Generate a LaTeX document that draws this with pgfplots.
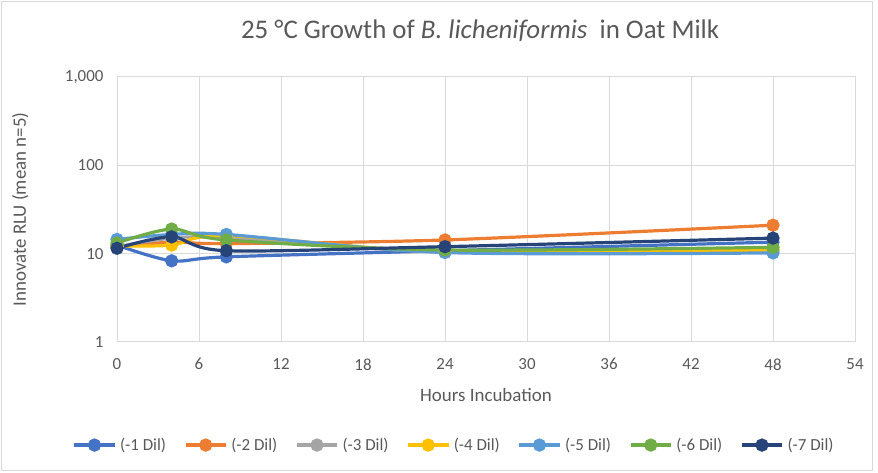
\documentclass[border=0pt]{standalone}
\usepackage{pgfplots}
\pgfplotsset{compat=1.18}
\usepackage{fontspec}
\setmainfont{Carlito}
\definecolor{c1}{HTML}{4472C4}
\definecolor{c2}{HTML}{ED7D31}
\definecolor{c3}{HTML}{A5A5A5}
\definecolor{c4}{HTML}{FFC000}
\definecolor{c5}{HTML}{5B9BD5}
\definecolor{c6}{HTML}{70AD47}
\definecolor{c7}{HTML}{264478}
\definecolor{txt}{HTML}{595959}
\definecolor{gridc}{HTML}{D9D9D9}
\begin{document}
\begin{tikzpicture}
\useasboundingbox (0,0) rectangle (878bp,473bp);
\draw[gridc, line width=1bp] (1.5bp,2bp) rectangle (872bp,471bp);
\begin{axis}[
  at={(117bp,131bp)}, anchor=south west,
  width=738bp, height=265bp, scale only axis,
  xmin=0, xmax=54, ymin=1, ymax=1000,
  ymode=log, log basis y=10,
  xtick={0,6,...,54},
  ytick={1,10,100,1000},
  yticklabels={1,10,100,{1,000}},
  /pgf/number format/assume math mode=true,
  grid=major,
  major grid style={gridc, line width=1bp},
  axis line style={gridc, line width=1bp},
  tick style={draw=none},
  tick label style={font=\fontsize{17}{20}\selectfont, text=txt},
  every x tick label/.append style={yshift=-13bp},
  every y tick label/.append style={xshift=-10bp},
  xlabel={Hours Incubation},
  ylabel={Innovate RLU (mean n=5)},
  every axis x label/.style={at={(axis description cs:0.5,-0.2)}, anchor=center, font=\fontsize{19}{22}\selectfont, text=txt},
  every axis y label/.style={at={(axis description cs:-0.131,0.5)}, anchor=center, rotate=90, font=\fontsize{19}{22}\selectfont, text=txt},
  title={25 °C Growth of \textit{B. licheniformis}\ \ in Oat Milk},
  title style={at={(axis description cs:0.492,1.121)}, anchor=base, font=\fontsize{27}{32}\selectfont, text=txt},
  legend columns=7,
  legend style={at={(axis description cs:0.457,-0.389)}, anchor=center, draw=none,
    font=\fontsize{17}{20}\selectfont, text=txt,
    /tikz/every odd column/.append style={column sep=2bp},
    /tikz/every even column/.append style={column sep=16bp}},
  legend image code/.code={\draw[mark repeat=2, mark phase=2] plot coordinates {(0bp,0bp) (20bp,0bp) (40bp,0bp)};},
  every axis plot/.append style={line width=3.2bp, smooth, tension=0.5, mark=*, mark size=5bp, mark options={solid, opacity=0.85, line width=0.5bp}},
]
\addplot[c1, mark options={fill=c1}] coordinates {(0,12.5) (4,8.3) (8,9.2) (24,10.8) (48,13.5)};
\addlegendentry{(-1 Dil)}
\addplot[c2, mark options={fill=c2}] coordinates {(0,12.0) (4,13.5) (8,13.0) (24,14.3) (48,21)};
\addlegendentry{(-2 Dil)}
\addplot[c3, mark options={fill=c3}] coordinates {(0,12.0) (4,15) (8,15) (24,10.5) (48,11)};
\addlegendentry{(-3 Dil)}
\addplot[c4, mark options={fill=c4}] coordinates {(0,12.2) (4,12.5) (8,16) (24,10.5) (48,11)};
\addlegendentry{(-4 Dil)}
\addplot[c5, mark options={fill=c5}] coordinates {(0,14.5) (4,16.5) (8,16.5) (24,10.3) (48,10.2)};
\addlegendentry{(-5 Dil)}
\addplot[c6, mark options={fill=c6}] coordinates {(0,13.2) (4,19) (8,14.3) (24,11.0) (48,11.8)};
\addlegendentry{(-6 Dil)}
\addplot[c7, mark options={fill=c7}] coordinates {(0,11.5) (4,15.5) (8,10.8) (24,12.0) (48,15)};
\addlegendentry{(-7 Dil)}
\end{axis}
\end{tikzpicture}
\end{document}
